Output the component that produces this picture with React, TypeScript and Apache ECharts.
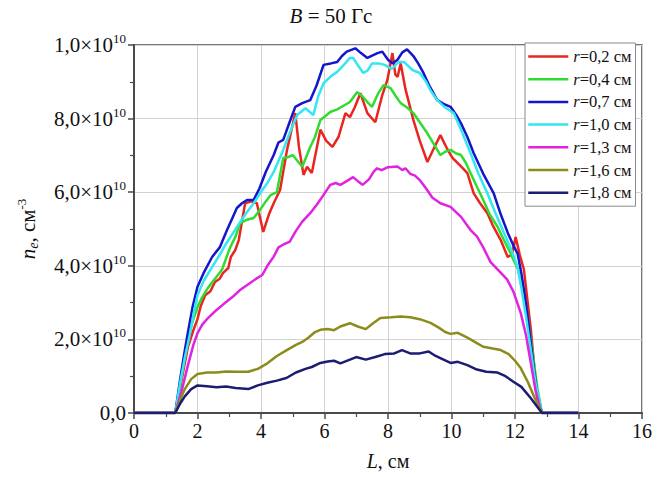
import React, { useEffect, useRef } from "react";
import * as echarts from "echarts";

const FONT = "'Liberation Serif', 'Times New Roman', serif";

const radii = ["0,2", "0,4", "0,7", "1,0", "1,3", "1,6", "1,8"];
const colors = ["#e8261f", "#2fdc2f", "#1515cc", "#33e6f2", "#e023e0", "#8c8c1c", "#1c1c72"];

const xTicks = [0, 2, 4, 6, 8, 10, 12, 14, 16];
const yTickMantissa = ["0,0", "2,0", "4,0", "6,0", "8,0", "1,0"];
const yTickExponent = "10";

const r02 = [[0,0],[1.3,0],[1.5,0.9],[1.7,1.8],[1.85,2.2],[2.0,2.55],[2.1,2.9],[2.24,3.2],[2.4,3.3],[2.55,3.56],[2.7,3.65],[2.8,3.8],[2.97,3.94],[3.05,4.24],[3.19,4.43],[3.3,4.7],[3.5,5.7],[3.7,5.75],[3.87,5.7],[4.07,4.92],[4.25,5.4],[4.4,5.7],[4.6,6.06],[4.82,7.15],[5.08,8.15],[5.2,7.2],[5.34,6.47],[5.45,6.69],[5.6,6.52],[5.87,7.7],[6.05,7.4],[6.25,7.23],[6.44,7.5],[6.66,8.15],[6.8,8.04],[6.95,8.3],[7.13,8.69],[7.35,8.15],[7.6,7.9],[7.82,8.64],[7.98,9.05],[8.14,9.78],[8.23,9.2],[8.3,9.13],[8.4,9.5],[8.55,8.8],[8.8,7.96],[9.0,7.4],[9.24,6.82],[9.45,7.2],[9.65,7.55],[9.85,7.2],[10.03,6.93],[10.3,6.7],[10.5,6.52],[10.7,5.97],[10.9,5.7],[11.13,5.43],[11.3,5.1],[11.55,4.7],[11.77,4.24],[11.9,4.3],[12.02,4.78],[12.15,4.3],[12.28,3.9],[12.4,3.0],[12.5,2.26],[12.6,1.3],[12.7,0.4],[12.85,0],[14,0]];
const r04 = [[0,0],[1.3,0],[1.5,1.0],[1.7,2.0],[1.85,2.5],[2.0,2.88],[2.15,3.15],[2.33,3.4],[2.55,3.65],[2.77,3.89],[2.9,4.2],[3.03,4.5],[3.2,4.8],[3.34,5.16],[3.55,5.25],[3.77,5.3],[3.97,5.52],[4.15,5.75],[4.3,5.92],[4.5,6.0],[4.7,6.93],[4.85,6.95],[5.0,7.01],[5.15,6.85],[5.3,6.69],[5.55,7.23],[5.7,7.5],[5.87,7.96],[6.0,8.05],[6.18,8.18],[6.4,8.25],[6.6,8.35],[6.8,8.45],[7.03,8.72],[7.2,8.6],[7.35,8.45],[7.5,8.32],[7.7,8.7],[7.86,8.91],[8.08,8.83],[8.25,8.6],[8.4,8.42],[8.6,8.3],[8.8,8.15],[9.0,7.9],[9.24,7.6],[9.45,7.3],[9.65,7.01],[9.8,7.1],[9.97,7.15],[10.15,7.05],[10.3,7.01],[10.45,6.8],[10.6,6.52],[10.8,6.15],[11.0,5.79],[11.2,5.4],[11.45,5.06],[11.65,4.7],[11.86,4.34],[11.95,4.16],[12.1,3.9],[12.3,3.1],[12.5,2.0],[12.7,0.7],[12.85,0],[14,0]];
const r07 = [[0,0],[1.3,0],[1.45,0.9],[1.6,1.7],[1.7,2.2],[1.85,2.9],[2.0,3.43],[2.19,3.8],[2.46,4.24],[2.7,4.5],[2.93,4.97],[3.1,5.3],[3.24,5.57],[3.4,5.7],[3.56,5.79],[3.77,5.79],[3.95,6.1],[4.15,6.55],[4.4,7.01],[4.55,7.35],[4.7,7.42],[4.9,7.9],[5.08,8.32],[5.3,8.42],[5.55,8.5],[5.75,8.9],[5.97,9.46],[6.2,9.5],[6.4,9.54],[6.55,9.7],[6.7,9.82],[6.97,9.91],[7.15,9.78],[7.35,9.65],[7.55,9.73],[7.67,9.78],[7.82,9.82],[8.0,9.6],[8.14,9.5],[8.3,9.6],[8.45,9.8],[8.6,9.88],[8.8,9.7],[8.95,9.5],[9.1,9.27],[9.3,8.9],[9.55,8.5],[9.75,8.4],[9.97,8.32],[10.15,8.1],[10.3,7.87],[10.5,7.5],[10.7,7.06],[11.0,6.5],[11.33,5.97],[11.55,5.4],[11.77,4.9],[11.95,4.55],[12.08,4.34],[12.2,3.8],[12.3,3.25],[12.4,2.6],[12.5,1.9],[12.6,1.17],[12.72,0.4],[12.85,0],[14,0]];
const r10 = [[0,0],[1.3,0],[1.45,0.8],[1.6,1.5],[1.75,2.1],[1.9,2.8],[2.0,3.2],[2.2,3.6],[2.45,3.95],[2.7,4.3],[2.9,4.6],[3.12,4.89],[3.35,5.2],[3.56,5.46],[3.77,5.7],[3.97,5.97],[4.2,6.25],[4.4,6.55],[4.55,6.85],[4.7,7.15],[4.9,7.6],[5.14,8.1],[5.4,8.28],[5.65,8.1],[5.8,8.6],[5.97,8.96],[6.2,9.15],[6.4,9.27],[6.6,9.45],[6.8,9.65],[6.9,9.65],[7.05,9.45],[7.22,9.24],[7.35,9.3],[7.5,9.5],[7.7,9.5],[7.9,9.46],[8.1,9.35],[8.18,9.4],[8.33,9.54],[8.5,9.54],[8.77,9.32],[9.0,9.24],[9.2,9.0],[9.35,8.75],[9.55,8.5],[9.8,8.3],[10.07,8.15],[10.3,7.7],[10.6,7.06],[10.85,6.5],[11.13,5.97],[11.4,5.4],[11.65,4.9],[11.9,4.4],[12.08,3.97],[12.2,3.4],[12.35,2.6],[12.5,1.7],[12.65,0.8],[12.85,0],[14,0]];
const r13 = [[0,0],[1.3,0],[1.5,0.6],[1.7,1.3],[1.87,1.85],[2.0,2.17],[2.15,2.4],[2.33,2.58],[2.6,2.8],[2.85,2.98],[3.1,3.15],[3.35,3.35],[3.6,3.5],[3.85,3.65],[4.04,3.75],[4.2,4.0],[4.4,4.25],[4.55,4.5],[4.75,4.6],[4.9,4.65],[5.1,4.95],[5.3,5.2],[5.55,5.43],[5.75,5.65],[5.95,5.9],[6.18,6.2],[6.35,6.25],[6.5,6.2],[6.7,6.3],[6.9,6.41],[7.05,6.3],[7.2,6.2],[7.4,6.35],[7.55,6.56],[7.66,6.65],[7.8,6.6],[8.0,6.68],[8.3,6.7],[8.45,6.6],[8.55,6.65],[8.7,6.5],[8.85,6.45],[9.0,6.33],[9.2,6.1],[9.4,5.85],[9.65,5.7],[9.97,5.6],[10.15,5.45],[10.3,5.33],[10.6,4.97],[10.8,4.8],[11.0,4.5],[11.23,4.1],[11.45,3.9],[11.75,3.63],[11.95,3.3],[12.18,2.72],[12.35,2.1],[12.5,1.35],[12.65,0.6],[12.8,0.1],[12.85,0],[14,0]];
const r16 = [[0,0],[1.3,0],[1.45,0.35],[1.6,0.65],[1.8,0.92],[2.0,1.06],[2.3,1.1],[2.6,1.1],[2.9,1.13],[3.2,1.12],[3.6,1.12],[3.9,1.2],[4.2,1.35],[4.5,1.55],[4.8,1.7],[5.1,1.85],[5.3,1.93],[5.5,2.05],[5.7,2.2],[5.87,2.26],[6.1,2.28],[6.3,2.25],[6.5,2.35],[6.8,2.44],[7.05,2.35],[7.3,2.28],[7.5,2.42],[7.76,2.58],[8.1,2.6],[8.4,2.62],[8.7,2.6],[9.0,2.55],[9.34,2.45],[9.6,2.32],[9.8,2.2],[9.97,2.15],[10.2,2.18],[10.5,2.05],[10.8,1.9],[11.0,1.8],[11.3,1.75],[11.55,1.71],[11.8,1.6],[12.0,1.42],[12.18,1.22],[12.4,0.85],[12.6,0.45],[12.85,0],[14,0]];
const r18 = [[0,0],[1.3,0],[1.45,0.25],[1.6,0.45],[1.8,0.65],[2.0,0.75],[2.3,0.73],[2.6,0.7],[2.9,0.72],[3.2,0.68],[3.6,0.65],[3.9,0.75],[4.2,0.82],[4.5,0.88],[4.8,0.95],[5.1,1.1],[5.4,1.2],[5.6,1.25],[5.87,1.36],[6.1,1.4],[6.3,1.42],[6.5,1.35],[6.8,1.45],[7.0,1.52],[7.3,1.45],[7.6,1.52],[7.9,1.6],[8.2,1.62],[8.44,1.71],[8.7,1.62],[9.0,1.62],[9.28,1.67],[9.5,1.55],[9.75,1.45],[9.97,1.36],[10.2,1.39],[10.5,1.3],[10.8,1.18],[11.1,1.12],[11.45,1.1],[11.7,1.0],[11.95,0.85],[12.2,0.71],[12.5,0.4],[12.85,0],[14,0]];

const allData = [r02, r04, r07, r10, r13, r16, r18];

export default function App() {
  const ref = useRef<HTMLDivElement>(null);
  useEffect(() => {
    const chart = echarts.init(ref.current!, null, { renderer: "svg" });
    const names = radii.map((r) => `r=${r} см`);
    const axisColor = "#4a4a4a";
    chart.setOption({
      animation: false,
      backgroundColor: "#ffffff",
      textStyle: { fontFamily: FONT },
      grid: { left: 134, right: 15, top: 45, bottom: 64, show: true, borderColor: axisColor, borderWidth: 1.5, backgroundColor: "transparent" },
      graphic: [
        {
          type: "text",
          x: 331,
          y: 16,
          style: {
            text: "{i|B} = 50 Гс",
            align: "center",
            verticalAlign: "middle",
            fill: "#111",
            font: `21px ${FONT}`,
            rich: { i: { fontStyle: "italic", fontSize: 21, fontFamily: FONT, fill: "#111" } },
          },
        },
      ],
      legend: {
        orient: "vertical",
        left: 525,
        top: 43,
        itemWidth: 40,
        itemHeight: 15,
        itemGap: 5.7,
        padding: [5, 4, 5, 2],
        backgroundColor: "#ffffff",
        borderColor: "#8a8a8a",
        borderWidth: 1,
        data: names,
        itemStyle: { opacity: 0, borderWidth: 0 },
        lineStyle: { width: 2.5 },
        formatter: (n: string) => `{i|r}${n.slice(1)}`,
        textStyle: {
          fontFamily: FONT,
          fontSize: 16.5,
          lineHeight: 17,
          color: "#111",
          rich: { i: { fontStyle: "italic", fontFamily: FONT, fontSize: 16.5, lineHeight: 17, color: "#111" } },
        },
      },
      xAxis: {
        type: "value",
        min: 0,
        max: 16,
        interval: 2,
        name: "{i|L}, см",
        nameLocation: "middle",
        nameGap: 38,
        nameTextStyle: {
          fontFamily: FONT,
          fontSize: 20,
          color: "#111",
          rich: { i: { fontStyle: "italic", fontFamily: FONT, fontSize: 20, color: "#111" } },
        },
        axisLine: { lineStyle: { color: axisColor, width: 2 } },
        axisTick: { length: 6, lineStyle: { color: axisColor, width: 1.5 } },
        minorTick: { show: true, splitNumber: 2, length: 4, lineStyle: { color: axisColor, width: 1.2 } },
        splitLine: { show: true, lineStyle: { color: "#d2d2d2", width: 1 } },
        axisLabel: {
          fontFamily: FONT,
          fontSize: 20,
          color: "#111",
          margin: 8,
          formatter: (v: number) => (xTicks.includes(v) ? String(v) : ""),
        },
      },
      yAxis: {
        type: "value",
        min: 0,
        max: 10,
        interval: 2,
        name: "{i|n}{sub|e}, см{sup|-3}",
        nameLocation: "middle",
        nameRotate: 90,
        nameGap: 94,
        nameTextStyle: {
          fontFamily: FONT,
          fontSize: 21,
          color: "#111",
          rich: {
            i: { fontStyle: "italic", fontFamily: FONT, fontSize: 21, color: "#111", lineHeight: 25 },
            sub: { fontStyle: "italic", fontFamily: FONT, fontSize: 14, color: "#111", verticalAlign: "bottom", lineHeight: 25 },
            sup: { fontFamily: FONT, fontSize: 13, color: "#111", verticalAlign: "top", lineHeight: 25 },
          },
        },
        axisLine: { lineStyle: { color: axisColor, width: 2 } },
        axisTick: { length: 6, lineStyle: { color: axisColor, width: 1.5 } },
        minorTick: { show: true, splitNumber: 2, length: 4, lineStyle: { color: axisColor, width: 1.2 } },
        splitLine: { show: true, lineStyle: { color: "#d2d2d2", width: 1 } },
        axisLabel: {
          fontFamily: FONT,
          fontSize: 21,
          color: "#111",
          margin: 8,
          formatter: (v: number) => {
            const idx = Math.round(v / 2);
            const m = yTickMantissa[idx];
            if (idx === 0) return `{m|${m}}`;
            return `{m|${m}×10}{s|${yTickExponent}}`;
          },
          rich: {
            m: { fontFamily: FONT, fontSize: 21, color: "#111", lineHeight: 26 },
            s: { fontFamily: FONT, fontSize: 13, color: "#111", verticalAlign: "top", lineHeight: 26 },
          },
        },
      },
      series: allData.map((d, i) => ({
        name: names[i],
        type: "line",
        data: d,
        showSymbol: false,
        symbol: "none",
        color: colors[i],
        lineStyle: { color: colors[i], width: 2.5 },
        z: 2 + i,
      })),
    });
    return () => chart.dispose();
  }, []);
  return <div ref={ref} style={{ position: "fixed", left: 0, top: 0, width: 657, height: 477 }} />;
}
